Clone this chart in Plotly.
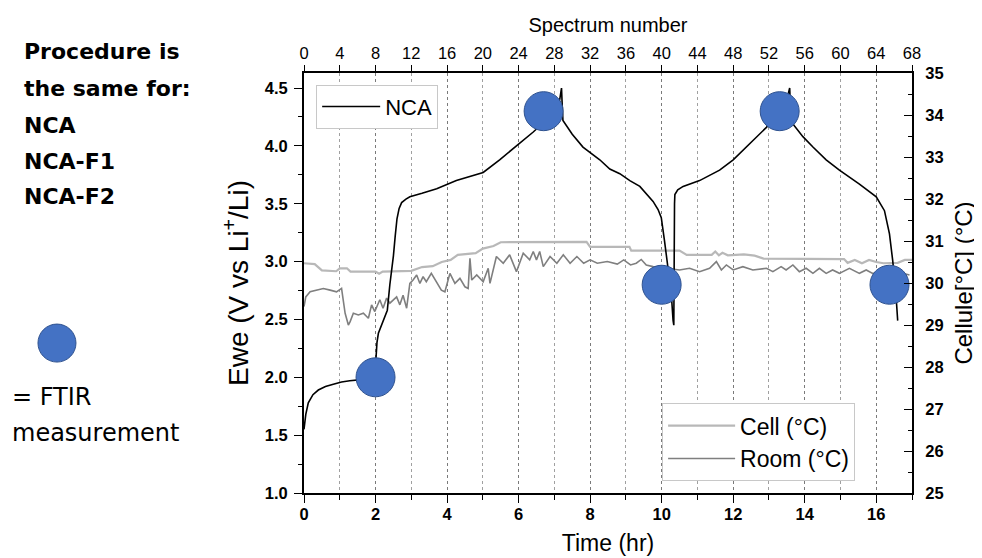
import plotly.graph_objects as go

# ---------------- data ----------------
t_nca = [0, 0.05, 0.12, 0.25, 0.4, 0.6, 0.82, 1.05, 1.28, 1.6, 1.85, 2.0, 2.01, 2.04, 2.08,
         2.15, 2.22, 2.33, 2.40, 2.45, 2.50, 2.55, 2.60, 2.66, 2.73, 2.85, 2.96, 3.3, 3.71,
         4.26, 4.7, 5.01, 5.47, 5.94, 6.41, 6.69, 7.0, 7.15, 7.2, 7.22, 7.24, 7.5, 7.8, 8.27,
         8.55, 8.83, 9.11, 9.39, 9.66, 9.76, 9.9, 9.99, 10.08, 10.18, 10.27, 10.32, 10.34,
         10.36, 10.37, 10.45, 10.6, 11.06, 11.62, 12.0, 12.46, 12.93, 13.3, 13.5, 13.58, 13.6,
         13.67, 13.95, 14.23, 14.6, 14.97, 15.53, 16.0, 16.23, 16.37, 16.46, 16.55, 16.6]
v_nca = [1.55, 1.68, 1.78, 1.85, 1.89, 1.92, 1.94, 1.96, 1.97, 1.98, 2.0, 2.01, 2.15, 2.30, 2.38,
         2.44, 2.49, 2.58, 2.80, 2.92, 3.05, 3.22, 3.37, 3.46, 3.51, 3.54, 3.56, 3.59, 3.63,
         3.70, 3.74, 3.77, 3.88, 4.00, 4.12, 4.20, 4.30, 4.40, 4.50, 4.35, 4.22, 4.10, 3.99, 3.88,
         3.80, 3.76, 3.70, 3.65, 3.56, 3.52, 3.45, 3.38, 3.18, 2.95, 2.72, 2.49, 2.45,
         3.50, 3.58, 3.62, 3.65, 3.70, 3.79, 3.88, 4.02, 4.16, 4.30, 4.40, 4.50, 4.35,
         4.19, 4.08, 3.99, 3.88, 3.79, 3.67, 3.56, 3.44, 3.24, 3.01, 2.72, 2.49]

t_cell = [0, 0.3, 0.5, 0.9, 1.0, 1.2, 1.3, 2.0, 2.1, 2.2, 3.0, 3.3, 3.6, 3.85, 4.1, 4.3, 4.8,
          5.0, 5.3, 5.5, 7.9, 8.0, 9.1, 9.15, 10.5, 10.7, 11.4, 11.5, 11.6, 11.7, 11.85, 12.3,
          12.6, 12.85, 15.1, 15.2, 15.4, 15.6, 15.8, 16.0, 16.2, 16.6, 16.8, 17.0]
T_cell = [30.47, 30.45, 30.30, 30.28, 30.35, 30.35, 30.27, 30.27, 30.22, 30.27, 30.29, 30.38,
          30.40, 30.50, 30.55, 30.67, 30.71, 30.82, 30.88, 30.97, 30.98, 30.86, 30.86, 30.77,
          30.77, 30.67, 30.67, 30.75, 30.66, 30.72, 30.66, 30.68, 30.65, 30.58, 30.57, 30.48,
          30.55, 30.47, 30.55, 30.50, 30.47, 30.48, 30.55, 30.55]

t_room = [0, 0.05, 0.17, 0.35, 0.54, 0.73, 0.91, 1.05, 1.15, 1.24, 1.29, 1.38, 1.52, 1.66, 1.8,
          1.89, 1.98, 2.12, 2.21, 2.31, 2.40, 2.59, 2.68, 2.77, 2.87, 2.96, 3.05, 3.15, 3.24,
          3.33, 3.42, 3.56, 3.70, 3.84, 3.94, 4.08, 4.22, 4.36, 4.50, 4.59, 4.64, 4.69, 4.83,
          5.01, 5.15, 5.2, 5.38, 5.57, 5.75, 5.94, 6.13, 6.31, 6.41, 6.50, 6.59, 6.69, 6.88,
          7.07, 7.25, 7.44, 7.63, 7.82, 8.0, 8.2, 8.48, 8.76, 8.94, 9.13, 9.29, 9.43, 9.57,
          9.76, 10.13, 10.5, 10.78, 11.06, 11.34, 11.53, 11.67, 11.81, 12.0, 12.27, 12.55,
          12.93, 13.11, 13.34, 13.48, 13.67, 13.85, 14.04, 14.23, 14.41, 14.6, 14.78, 14.97,
          15.25, 15.53, 15.72, 15.9, 16.18, 16.46, 16.74, 16.93]
T_room = [29.44, 29.67, 29.79, 29.83, 29.87, 29.83, 29.79, 29.87, 29.28, 29.00, 29.08, 29.28,
          29.24, 29.28, 29.16, 29.48, 29.32, 29.60, 29.40, 29.64, 29.52, 29.67, 29.48, 29.71,
          29.40, 29.99, 30.07, 30.19, 29.99, 30.15, 30.03, 30.23, 30.03, 29.83, 29.79, 30.23,
          29.99, 30.11, 29.91, 29.87, 30.59, 30.07, 30.19, 30.03, 30.35, 29.99, 30.63, 30.47,
          30.67, 30.27, 30.71, 30.55, 30.75, 30.55, 30.75, 30.39, 30.63, 30.47, 30.67, 30.47,
          30.63, 30.47, 30.55, 30.47, 30.51, 30.45, 30.55, 30.43, 30.47, 30.56, 30.43, 30.39,
          30.35, 30.31, 30.35, 30.27, 30.35, 30.51, 30.31, 30.43, 30.31, 30.39, 30.31, 30.35,
          30.27, 30.39, 30.31, 30.43, 30.27, 30.35, 30.23, 30.35, 30.23, 30.31, 30.23, 30.35,
          30.23, 30.31, 30.23, 30.23, 30.19, 30.23, 30.19]

ftir_t = [2.0, 6.7, 10.0, 13.3, 16.37]
ftir_v = [2.0, 4.3, 2.8, 4.3, 2.8]

side_lines = ["Procedure is", "the same for:", "NCA", "NCA-F1", "NCA-F2"]
note_lines = ["= FTIR", "measurement"]

# ---------------- figure ----------------
FONT = "Liberation Sans, Arial, sans-serif"
SIDE_FONT = "DejaVu Sans, sans-serif"
fig = go.Figure()

fig.add_trace(go.Scatter(x=t_cell, y=T_cell, mode="lines", name="Cell (°C)",
                         line=dict(color="#b8b8b8", width=2.2), legend="legend2",
                         xaxis="x", yaxis="y"))
fig.add_trace(go.Scatter(x=t_room, y=T_room, mode="lines", name="Room (°C)",
                         line=dict(color="#7f7f7f", width=1.6), legend="legend2",
                         xaxis="x", yaxis="y"))
fig.add_trace(go.Scatter(x=[0, 68], y=[None, None], mode="lines", showlegend=False,
                         hoverinfo="skip", xaxis="x2", yaxis="y"))
fig.add_trace(go.Scatter(x=t_nca, y=v_nca, mode="lines", name="NCA",
                         line=dict(color="black", width=1.6), legend="legend",
                         xaxis="x", yaxis="y2"))
fig.add_trace(go.Scatter(x=ftir_t, y=ftir_v, mode="markers", showlegend=False,
                         marker=dict(size=39, color="#4472C4",
                                     line=dict(color="#2F528F", width=1)),
                         xaxis="x", yaxis="y2"))

tickfont_b = dict(family=FONT, size=16.5, color="black", weight="bold")
axis_common = dict(showline=True, linecolor="black", linewidth=2,
                   tickcolor="black", zeroline=False)

fig.update_layout(
    width=982, height=558,
    margin=dict(l=296, r=78, t=65, b=73),
    paper_bgcolor="white", plot_bgcolor="white",
    font=dict(family=FONT, color="black"),
    xaxis=dict(range=[0, 17], tickvals=[0, 2, 4, 6, 8, 10, 12, 14, 16], ticks="outside",
               ticklen=8, tickfont=tickfont_b, ticklabelstandoff=-3,
               title=dict(text="Time (hr)", font=dict(size=23), standoff=13),
               showgrid=True, gridcolor="#7a7a7a", griddash="dot", gridwidth=1,
               minor=dict(dtick=1, ticklen=5, ticks="outside", tickcolor="black",
                          showgrid=True, gridcolor="#a0a0a0", griddash="dot"),
               **axis_common),
    xaxis2=dict(range=[0, 68], overlaying="x", side="top", anchor="y", dtick=4,
                ticks="outside", ticklen=6, ticklabelstandoff=-1,
                tickfont=dict(family=FONT, size=16.5, color="black"),
                title=dict(text="Spectrum number", font=dict(size=20), standoff=6),
                showgrid=False, **axis_common),
    yaxis=dict(range=[25, 35], side="right", dtick=1, ticks="inside", ticklen=8,
               tickfont=tickfont_b, ticklabelstandoff=8,
               title=dict(text="Cellule[°C] (°C)", font=dict(size=24), standoff=12),
               showgrid=False,
               minor=dict(dtick=0.5, ticklen=4, ticks="inside", tickcolor="black"),
               **axis_common),
    yaxis2=dict(range=[1, 4.63], overlaying="y", side="left", anchor="x",
                tickvals=[1, 1.5, 2, 2.5, 3, 3.5, 4, 4.5], tickformat=".1f",
                ticks="outside", ticklen=8, tickfont=tickfont_b, ticklabelstandoff=3,
                title=dict(text="Ewe (V vs Li<sup>+</sup>/Li)", font=dict(size=28), standoff=8),
                showgrid=False,
                minor=dict(dtick=0.25, ticklen=4, ticks="outside", tickcolor="black"),
                **axis_common),
    legend=dict(x=0.02, y=0.972, xanchor="left", yanchor="top", bgcolor="white",
                bordercolor="#c8c8c8", borderwidth=1, itemwidth=58,
                font=dict(family=FONT, size=22, color="black")),
    legend2=dict(x=0.589, y=0.214, xanchor="left", yanchor="top", bgcolor="white",
                 bordercolor="#c8c8c8", borderwidth=1, itemwidth=67,
                 font=dict(family=FONT, size=23, color="black")),
)

# left-hand explanatory text
side_y = [1.05, 0.962, 0.876, 0.790, 0.705]
for txt, yy in zip(side_lines, side_y):
    fig.add_annotation(text=txt, xref="paper", yref="paper", x=-0.4638, y=yy,
                       xanchor="left", yanchor="middle", showarrow=False,
                       font=dict(family=SIDE_FONT, size=22, color="black", weight="bold"))
note_y = [0.2286, 0.1429]
for txt, yy in zip(note_lines, note_y):
    fig.add_annotation(text=txt, xref="paper", yref="paper", x=-0.4836, y=yy,
                       xanchor="left", yanchor="middle", showarrow=False,
                       font=dict(family=SIDE_FONT, size=24, color="black"))

fig.add_shape(type="circle", xref="paper", yref="paper", xsizemode="pixel", ysizemode="pixel",
              xanchor=-0.4063, yanchor=0.357, x0=-19, x1=19, y0=-19, y1=19,
              fillcolor="#4472C4", line=dict(color="#2F528F", width=1))

fig.write_html("out.html")
